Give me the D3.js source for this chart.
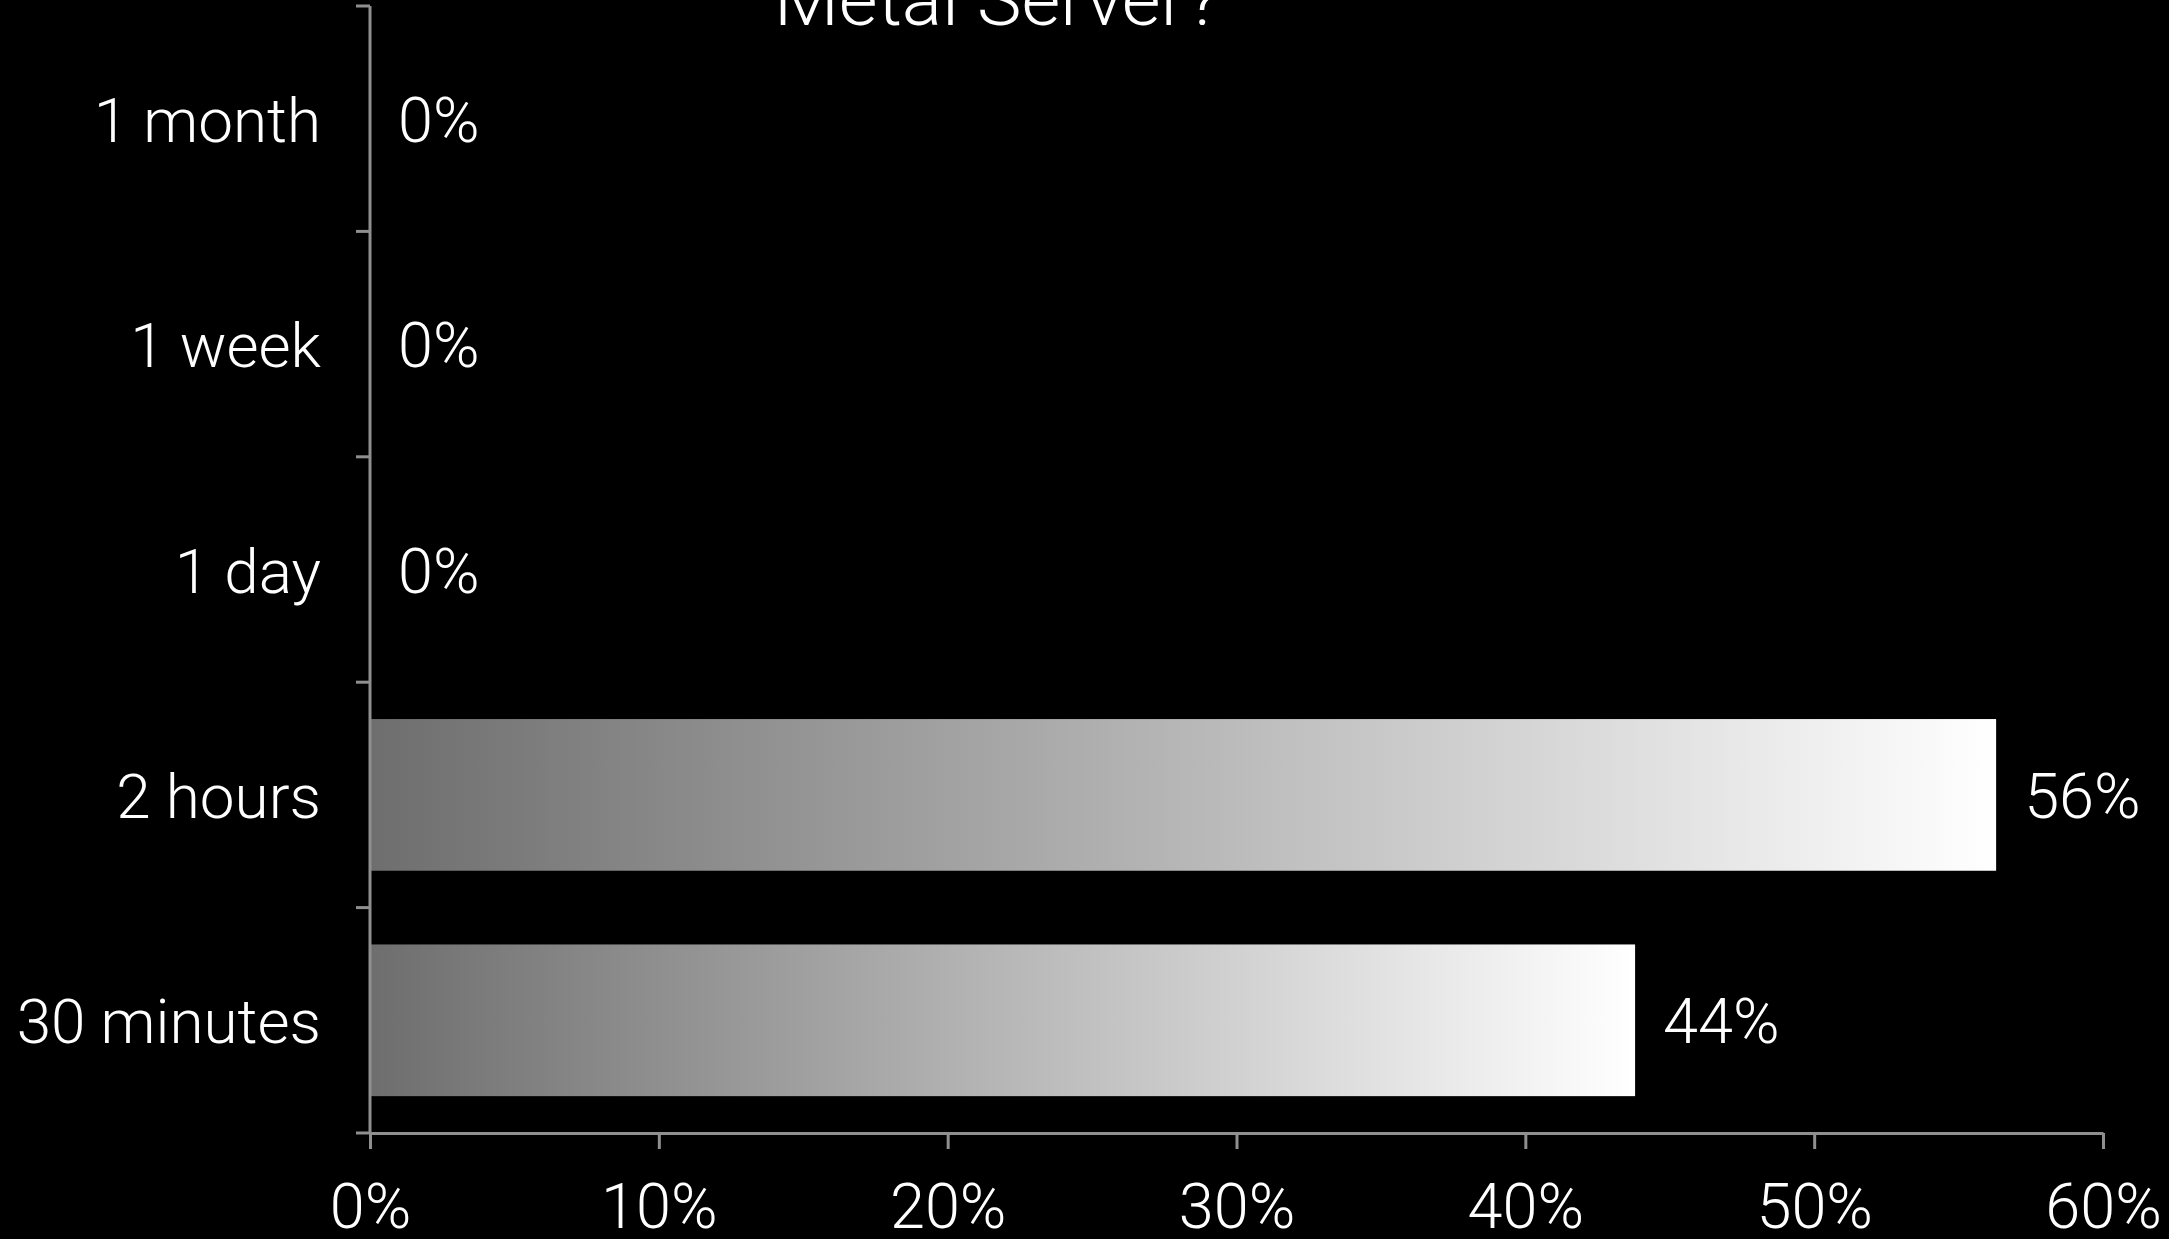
<!DOCTYPE html>
<html>
<head>
<meta charset="utf-8">
<script src="https://cdn.jsdelivr.net/npm/d3@7"></script>
<style>
  html, body { margin: 0; padding: 0; background: #000; }
  svg { display: block; }
  text { font-family: "Helvetica Neue", Roboto, "Liberation Sans", sans-serif; font-weight: 300; fill: #fff; }
</style>
</head>
<body>
<svg id="chart" width="2169" height="1239"></svg>
<script>
const titleLines = ["Metal Server?"];
const categories = ["1 month", "1 week", "1 day", "2 hours", "30 minutes"];
const values = [0, 0, 0, 0.563, 0.438];
const xTickValues = [0, 0.1, 0.2, 0.3, 0.4, 0.5, 0.6];

(function () {
const W = 2169, H = 1239;
const mLeft = 370, mRight = 2103, mTop = 6, mBottom = 1133;
const svg = d3.select("#chart");
svg.append("rect").attr("width", W).attr("height", H).attr("fill", "#000");

const defs = svg.append("defs");
const grad = defs.append("linearGradient").attr("id", "barGrad")
  .attr("x1", "0%").attr("x2", "100%").attr("y1", "0%").attr("y2", "0%");
grad.append("stop").attr("offset", "0%").attr("stop-color", "#6e6e6e");
grad.append("stop").attr("offset", "100%").attr("stop-color", "#ffffff");

const x = d3.scaleLinear().domain([0, 0.6]).range([mLeft, mRight]);
const y = d3.scaleBand().domain(categories).range([mTop, mBottom])
  .paddingInner(0.327).paddingOuter(0.1635);
const step = y.step();
const fmt = d3.format(".0%");

// title (only its last line is visible in the frame)
svg.append("text").attr("x", 997).attr("y", 25)
  .attr("text-anchor", "middle").style("font-size", "75px")
  .text(titleLines[titleLines.length - 1]);

// bars
svg.selectAll("rect.bar").data(categories).enter().append("rect")
  .attr("class", "bar")
  .attr("x", x(0))
  .attr("y", d => y(d))
  .attr("width", (d, i) => x(values[i]) - x(0))
  .attr("height", y.bandwidth())
  .attr("fill", "url(#barGrad)");

// value labels
svg.selectAll("text.val").data(categories).enter().append("text")
  .attr("class", "val")
  .attr("x", (d, i) => x(values[i]) + 28)
  .attr("y", d => y(d) + y.bandwidth() / 2 + 23)
  .style("font-size", "63px")
  .text((d, i) => fmt(values[i]));

// category labels
svg.selectAll("text.cat").data(categories).enter().append("text")
  .attr("class", "cat")
  .attr("x", 321)
  .attr("y", d => y(d) + y.bandwidth() / 2 + 23)
  .attr("text-anchor", "end")
  .style("font-size", "62px")
  .text(d => d);

const axisColor = "#8f8f8f";

// y axis: line + ticks at category boundaries
const boundaries = categories.map(d => y(d) - step * y.paddingInner() / 2).concat([mBottom]);
svg.append("line").attr("x1", x(0)).attr("x2", x(0)).attr("y1", mTop).attr("y2", mBottom)
  .attr("stroke", axisColor).attr("stroke-width", 3);
svg.selectAll("line.ytick").data(boundaries).enter().append("line")
  .attr("class", "ytick")
  .attr("x1", x(0) - 14).attr("x2", x(0))
  .attr("y1", d => d).attr("y2", d => d)
  .attr("stroke", axisColor).attr("stroke-width", 3);

// x axis
const xAxis = d3.axisBottom(x).tickValues(xTickValues).tickFormat(fmt)
  .tickSizeInner(16).tickSizeOuter(0).tickPadding(30);
const gx = svg.append("g").attr("transform", `translate(0,${mBottom})`).call(xAxis);
gx.attr("font-family", null).attr("font-size", null);
gx.select(".domain").attr("stroke", axisColor).attr("stroke-width", 3);
gx.selectAll(".tick line").attr("stroke", axisColor).attr("stroke-width", 3);
gx.selectAll(".tick text").attr("fill", "#fff").attr("dy", null)
  .attr("y", 95).style("font-size", "63px");
})();
</script>
</body>
</html>
